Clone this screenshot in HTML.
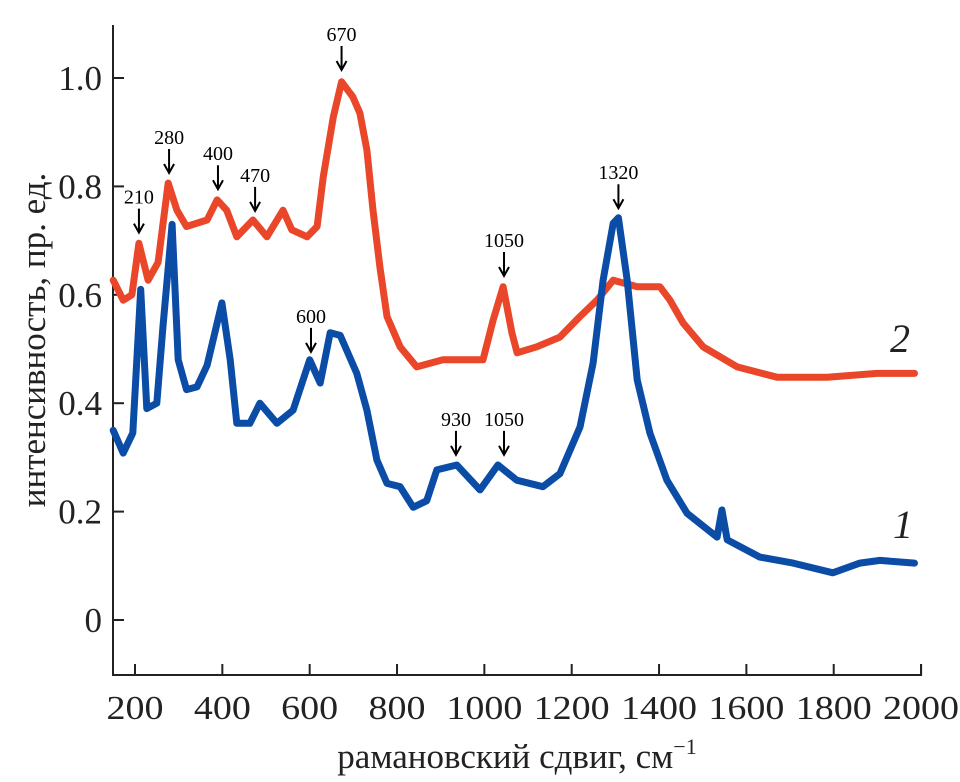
<!DOCTYPE html>
<html><head><meta charset="utf-8"><style>
body{margin:0;background:#fff;}
svg{display:block;font-family:"Liberation Serif",serif;}
</style></head><body>
<svg id="chart" width="960" height="782" viewBox="0 0 960 782"></svg>
<script>
const xTicks=[200,400,600,800,1000,1200,1400,1600,1800,2000];
const yTicks=[0,0.2,0.4,0.6,0.8,1.0];
const yTickLabels=["0","0.2","0.4","0.6","0.8","1.0"];
const redX=[150,173,193,209,230,253,276,296,318,365,388,410,433,470,502,539,559,594,617,631,654,673,699,715,731,745,761,777,807,845,905,997,1020,1043,1063,1075,1120,1173,1219,1258,1295,1350,1402,1425,1455,1501,1579,1670,1785,1899,1985];
const redY=[0.627,0.59,0.60,0.695,0.627,0.66,0.806,0.756,0.726,0.738,0.775,0.756,0.707,0.738,0.707,0.756,0.72,0.707,0.726,0.817,0.928,0.993,0.965,0.935,0.867,0.756,0.65,0.56,0.504,0.467,0.48,0.48,0.553,0.615,0.53,0.493,0.504,0.522,0.56,0.59,0.627,0.615,0.615,0.59,0.548,0.504,0.467,0.448,0.448,0.455,0.455];
const blueX=[150,173,195,213,227,250,264,285,299,318,342,365,399,418,433,463,486,525,562,600,624,647,670,708,731,754,777,807,837,868,891,937,990,1031,1074,1134,1173,1219,1249,1272,1295,1307,1327,1350,1379,1418,1464,1533,1544,1556,1631,1707,1798,1860,1906,1985];
const blueY=[0.35,0.308,0.345,0.61,0.39,0.40,0.54,0.73,0.48,0.425,0.43,0.47,0.585,0.48,0.363,0.363,0.40,0.363,0.387,0.48,0.437,0.53,0.525,0.455,0.387,0.295,0.252,0.246,0.208,0.22,0.277,0.286,0.24,0.286,0.258,0.246,0.27,0.356,0.474,0.627,0.732,0.742,0.627,0.443,0.345,0.258,0.197,0.153,0.203,0.148,0.116,0.105,0.087,0.105,0.11,0.105];
const annLabels=["210","280","400","470","670","1050","1320","600","930","1050"];
const annX=[209,278,390,475,673,1045,1307,603,935,1045];
const annY=[0.70,0.81,0.78,0.74,1.00,0.62,0.745,0.48,0.29,0.29];

const NS="http://www.w3.org/2000/svg";
const svg=document.getElementById('chart');
const xs=v=>135+(v-200)*0.4367;
const ys=v=>620-542*v;
function mk(t,a){const e=document.createElementNS(NS,t);for(const k in a)e.setAttribute(k,a[k]);svg.appendChild(e);return e;}

const xEnd=xs(2000);
let ax=mk('path',{d:`M113,25 V675 H${xEnd} V664`,fill:'none',stroke:'#222','stroke-width':2});


xTicks.forEach(v=>{
 const t=mk('line',{x1:xs(v),x2:xs(v),y1:675,y2:664,stroke:'#222','stroke-width':2});
 
 
 const l=mk('text',{x:xs(v),y:719,'text-anchor':'middle','font-size':34,fill:'#222',textLength:v>=1000?76:57,lengthAdjust:'spacingAndGlyphs'});l.textContent=v;
 
 
});
yTicks.forEach((v,i)=>{
 const t=mk('line',{x1:113,x2:124,y1:ys(v),y2:ys(v),stroke:'#222','stroke-width':2});
 
 
 const l=mk('text',{x:102,y:ys(v)+12,'text-anchor':'end','font-size':35,fill:'#222'});l.textContent=yTickLabels[i];
 
 
});
let xt=mk('text',{x:517,y:768,'text-anchor':'middle','font-size':35,fill:'#222'});
xt.innerHTML='рамановский сдвиг, см<tspan dy="-14" font-size="22">−1</tspan>';


let yt=mk('text',{x:0,y:0,'text-anchor':'middle','font-size':35,fill:'#222',transform:'translate(45,340) rotate(-90)'});
yt.textContent='интенсивность, пр. ед.';



function line(X,Y,c,name){
 const d=X.map((x,i)=>(i?'L':'M')+xs(x).toFixed(1)+','+ys(Y[i]).toFixed(1)).join(' ');
 const p=mk('path',{d:d,fill:'none',stroke:c,'stroke-width':7,'stroke-linejoin':'round','stroke-linecap':'round'});
 
 
}
line(redX,redY,'#ea4629','series-2-line');
line(blueX,blueY,'#0a4ca6','series-1-line');

annLabels.forEach((s,i)=>{
 const x=xs(annX[i]),y=ys(annY[i])-8;
 const g=mk('g',{});
 
 
 const a=document.createElementNS(NS,'path');
 a.setAttribute('d',`M${x},${y-24} V${y} M${x-5},${y-9} L${x},${y} L${x+5},${y-9}`);
 a.setAttribute('stroke','#000');a.setAttribute('stroke-width',2);a.setAttribute('fill','none');
 g.appendChild(a);
 const t=document.createElementNS(NS,'text');
 t.setAttribute('x',x);t.setAttribute('y',y-29);t.setAttribute('text-anchor','middle');t.setAttribute('font-size',20);
 t.textContent=s;g.appendChild(t);
 svg.appendChild(g);
});
let l2=mk('text',{x:890,y:352,'font-size':40,'font-style':'italic',fill:'#222'});l2.textContent='2';


let l1=mk('text',{x:893,y:538,'font-size':40,'font-style':'italic',fill:'#222'});l1.textContent='1';


</script>
</body></html>
